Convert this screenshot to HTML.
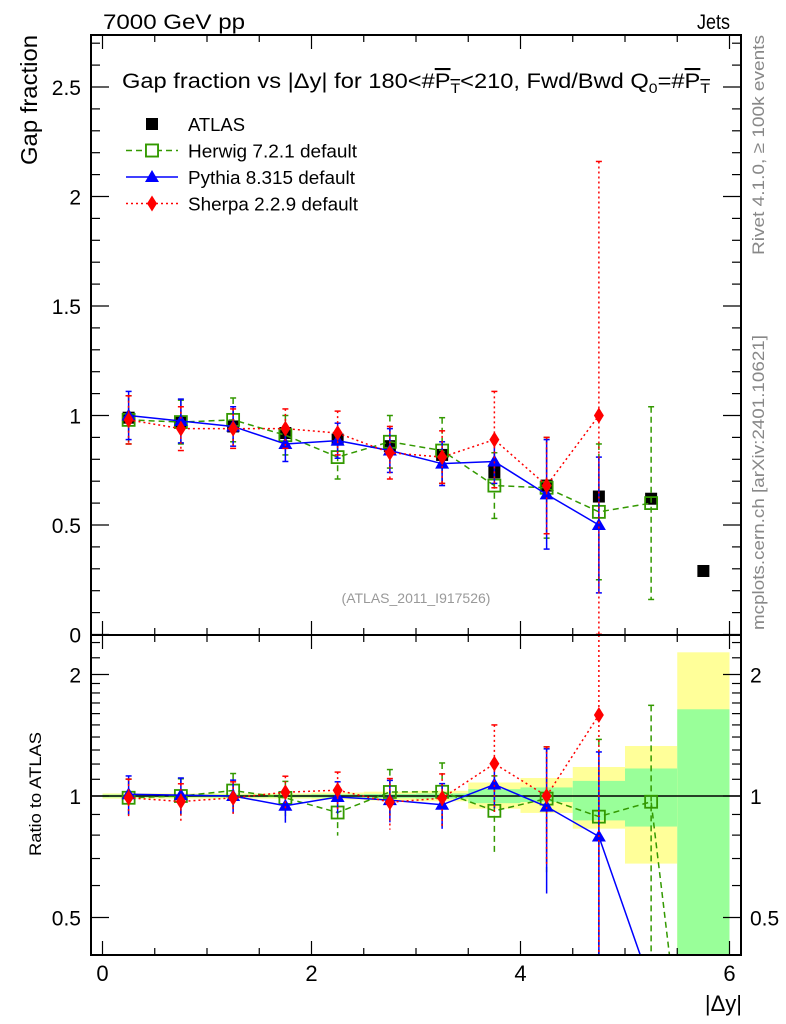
<!DOCTYPE html>
<html><head><meta charset="utf-8"><style>
html,body{margin:0;padding:0;background:#fff;overflow:hidden;width:786px;height:1024px;}
svg{display:block;font-family:"Liberation Sans",sans-serif;overflow:hidden;}
</style></head><body>
<svg id="chart" width="786" height="1024" viewBox="0 0 786 1024" xmlns="http://www.w3.org/2000/svg">
<defs>
<clipPath id="clipMain"><rect x="91" y="35" width="650" height="600"/></clipPath>
<clipPath id="clipRatio"><rect x="91" y="635" width="650" height="320"/></clipPath>
</defs>
<g id="bands" clip-path="url(#clipRatio)"></g>
<g id="grid"></g>
<g id="series"></g>
<rect x="91" y="35" width="650" height="600" fill="none" stroke="#000" stroke-width="2"/>
<rect x="91" y="635" width="650" height="320" fill="none" stroke="#000" stroke-width="2"/>
<text x="103" y="29" font-size="21" textLength="142" lengthAdjust="spacingAndGlyphs">7000 GeV pp</text>
<text x="697" y="29" font-size="21" textLength="33" lengthAdjust="spacingAndGlyphs">Jets</text>
<text x="122" y="88" font-size="21" textLength="588" lengthAdjust="spacingAndGlyphs">Gap fraction vs |Δy| for 180&lt;#<tspan text-decoration="overline">P<tspan font-size="14" dy="5">T</tspan></tspan><tspan dy="-5">&lt;210, Fwd/Bwd Q</tspan><tspan font-size="14" dy="5">0</tspan><tspan dy="-5">=#</tspan><tspan text-decoration="overline">P<tspan font-size="14" dy="5">T</tspan></tspan></text>
<text transform="translate(37,165) rotate(-90)" font-size="23" textLength="130" lengthAdjust="spacingAndGlyphs">Gap fraction</text>
<text transform="translate(41,856) rotate(-90)" font-size="17" textLength="124" lengthAdjust="spacingAndGlyphs">Ratio to ATLAS</text>
<text x="742" y="1011" font-size="22" text-anchor="end">|Δy|</text>
<text transform="translate(764,255) rotate(-90)" font-size="17" fill="#888" textLength="220" lengthAdjust="spacingAndGlyphs">Rivet 4.1.0, ≥ 100k events</text>
<text transform="translate(764,630) rotate(-90)" font-size="17" fill="#888" textLength="295" lengthAdjust="spacingAndGlyphs">mcplots.cern.ch [arXiv:2401.10621]</text>
<text x="416" y="603" font-size="14" fill="#999" text-anchor="middle">(ATLAS_2011_I917526)</text>
<g id="legend"></g>
</svg>
<script>
const xCenters = [0.25,0.75,1.25,1.75,2.25,2.75,3.25,3.75,4.25,4.75,5.25,5.75];
const atlasVals = [0.99,0.97,0.95,0.92,0.89,0.86,0.82,0.74,0.68,0.63,0.62,0.29];
const bandYellowUp = [1.015,1.015,1.015,1.015,1.02,1.025,1.03,1.08,1.108,1.18,1.33,2.27];
const bandYellowDn = [0.985,0.985,0.985,0.985,0.98,0.975,0.97,0.93,0.908,0.83,0.68,0.0];
const bandGreenUp = [1.008,1.008,1.008,1.008,1.01,1.012,1.015,1.04,1.05,1.09,1.17,1.64];
const bandGreenDn = [0.992,0.992,0.992,0.992,0.99,0.988,0.985,0.96,0.966,0.87,0.84,0.0];
const herwigVals = [0.98,0.97,0.98,0.91,0.81,0.88,0.84,0.68,0.67,0.56,0.60];
const herwigErr = [0.11,0.10,0.10,0.09,0.10,0.12,0.15,0.15,0.23,0.31,0.44];
const pythiaVals = [1.00,0.975,0.95,0.87,0.885,0.84,0.78,0.79,0.64,0.50];
const pythiaErr = [0.11,0.10,0.09,0.08,0.08,0.10,0.10,0.10,0.25,0.31];
const sherpaVals = [0.98,0.94,0.94,0.94,0.92,0.83,0.81,0.89,0.68,1.00];
const sherpaErr = [0.11,0.10,0.09,0.09,0.10,0.12,0.12,0.22,0.22,1.16];
const pythiaRatioTail = [5.75,0.144];
const herwigRatioTail = [5.75,0.08];
const xTickLabels = ["0","2","4","6"];
const yTickLabels = ["0","0.5","1","1.5","2","2.5"];
const ratioTickLabels = ["0.5","1","2"];

const NS="http://www.w3.org/2000/svg";
const X0=102.5, XU=104.5;
const sx=v=>X0+v*XU;
const sy=v=>634.5-v*219;
const sr=r=>796-Math.log2(Math.max(r,1e-6))*121.5;
function mk(tag,attrs,parent){const e=document.createElementNS(NS,tag);for(const k in attrs)e.setAttribute(k,attrs[k]);parent.appendChild(e);return e;}
const grid=document.getElementById('grid');
const series=document.getElementById('series');
const bands=document.getElementById('bands');

for(let i=0;i<xCenters.length;i++){
  const x1=sx(xCenters[i]-0.25), w=XU*0.5;
  const y=mk('rect',{x:x1,y:sr(bandYellowUp[i]),width:w,height:sr(bandYellowDn[i])-sr(bandYellowUp[i]),fill:'#ffff99'},bands);
  
  
  const g=mk('rect',{x:x1,y:sr(bandGreenUp[i]),width:w,height:sr(bandGreenDn[i])-sr(bandGreenUp[i]),fill:'#99ff99'},bands);
  
  
}
mk('line',{x1:91,x2:741,y1:sr(1),y2:sr(1),stroke:'#000','stroke-width':1.5},grid);

for(let v=0;v<=6.001;v+=0.5){
  const major=Math.abs(v-Math.round(v/2)*2)<1e-6, L=major?14:7;
  for(const [yb,dir] of [[635,-1],[955,-1],[35,1],[635,1]]){
    mk('line',{x1:sx(v),x2:sx(v),y1:yb,y2:yb+dir*L,stroke:'#000','stroke-width':1.2},grid);
  }
}
xTickLabels.forEach(t=>{const e=mk('text',{x:sx(+t),y:981,'font-size':22,'text-anchor':'middle'},grid);e.textContent=t;
  
  });
for(let k=0;k<=27;k++){
  const v=k*0.1, major=k%5===0, L=major?18:9, y=sy(v);
  mk('line',{x1:91,x2:91+L,y1:y,y2:y,stroke:'#000','stroke-width':1.2},grid);
  mk('line',{x1:741,x2:741-L,y1:y,y2:y,stroke:'#000','stroke-width':1.2},grid);
}
yTickLabels.forEach(t=>{const e=mk('text',{x:81,y:sy(+t)+8,'font-size':21,'text-anchor':'end'},grid);e.textContent=t;
  
  });
const rt=[0.4,0.5,0.6,0.7,0.8,0.9,1,1.1,1.2,1.3,1.4,1.5,1.6,1.7,1.8,1.9,2,2.2,2.4];
rt.forEach(r=>{const major=(r===0.5||r===1||r===2), L=major?18:9, y=sr(r);
  if(y<636||y>954)return;
  mk('line',{x1:91,x2:91+L,y1:y,y2:y,stroke:'#000','stroke-width':1.2},grid);
  mk('line',{x1:741,x2:741-L,y1:y,y2:y,stroke:'#000','stroke-width':1.2},grid);});
ratioTickLabels.forEach(t=>{
  const a=mk('text',{x:81,y:sr(+t)+8,'font-size':21,'text-anchor':'end'},grid);a.textContent=t;
  
  
  const b=mk('text',{x:750,y:sr(+t)+8,'font-size':21},grid);b.textContent=t;
  
  });

function marker(kind,x,y,color,parent){
  let e;
  if(kind==='square') e=mk('rect',{x:x-6,y:y-6,width:12,height:12,fill:'#000'},parent);
  else if(kind==='open') e=mk('rect',{x:x-6,y:y-6,width:12,height:12,fill:'none',stroke:color,'stroke-width':1.8},parent);
  else if(kind==='tri') e=mk('polygon',{points:`${x},${y-7} ${x-7},${y+5} ${x+7},${y+5}`,fill:color},parent);
  else e=mk('polygon',{points:`${x},${y-8} ${x-5},${y} ${x},${y+8} ${x+5},${y}`,fill:color},parent);
  return e;
}
function drawSeries(name,vals,errs,color,dash,kind,tail){
  const gm=mk('g',{'clip-path':'url(#clipMain)'},series);
  
  
  const gr=mk('g',{'clip-path':'url(#clipRatio)'},series);
  
  
  const pm=[],pr=[];
  vals.forEach((v,i)=>{const x=sx(xCenters[i]);pm.push(x+','+sy(v));pr.push(x+','+sr(v/atlasVals[i]));});
  if(tail) pr.push(sx(tail[0])+','+sr(tail[1]));
  mk('polyline',{points:pm.join(' '),fill:'none',stroke:color,'stroke-width':1.5,'stroke-dasharray':dash},gm);
  mk('polyline',{points:pr.join(' '),fill:'none',stroke:color,'stroke-width':1.5,'stroke-dasharray':dash},gr);
  vals.forEach((v,i)=>{
    const x=sx(xCenters[i]), e=errs[i], a=atlasVals[i];
    const lo=Math.max(v-e,0.001);
    mk('line',{x1:x,x2:x,y1:sy(v+e),y2:sy(lo),stroke:color,'stroke-width':1.5,'stroke-dasharray':dash},gm);
    mk('line',{x1:x-3,x2:x+3,y1:sy(v+e),y2:sy(v+e),stroke:color,'stroke-width':1.5},gm);
    mk('line',{x1:x-3,x2:x+3,y1:sy(lo),y2:sy(lo),stroke:color,'stroke-width':1.5},gm);
    mk('line',{x1:x,x2:x,y1:sr((v+e)/a),y2:sr(lo/a),stroke:color,'stroke-width':1.5,'stroke-dasharray':dash},gr);
    mk('line',{x1:x-3,x2:x+3,y1:sr((v+e)/a),y2:sr((v+e)/a),stroke:color,'stroke-width':1.5},gr);
    const m1=marker(kind,x,sy(v),color,gm);
    
    
    const m2=marker(kind,x,sr(v/a),color,gr);
    
    
  });
}
const ga=mk('g',{'clip-path':'url(#clipMain)'},series);


atlasVals.forEach((v,i)=>{const m=marker('square',sx(xCenters[i]),sy(v),'#000',ga);
  
  });
drawSeries('herwig',herwigVals,herwigErr,'#339900','6,4','open',herwigRatioTail);
drawSeries('pythia',pythiaVals,pythiaErr,'#0000ff','none','tri',pythiaRatioTail);
drawSeries('sherpa',sherpaVals,sherpaErr,'#ff0000','2,3','diamond',null);

const lg=document.getElementById('legend');
const entries=[['ATLAS','#000','none','square',57],['Herwig 7.2.1 default','#339900','6,4','open',169],['Pythia 8.315 default','#0000ff','none','tri',167],['Sherpa 2.2.9 default','#ff0000','2,3','diamond',170]];
entries.forEach((en,i)=>{
  const y=124+i*26.5;
  const g=mk('g',{},lg);
  
  
  if(i>0) mk('line',{x1:126,x2:178,y1:y,y2:y,stroke:en[1],'stroke-width':1.5,'stroke-dasharray':en[2]},g);
  marker(en[3],152,y,en[1],g);
  if(i===1) mk('rect',{x:146,y:y-6,width:12,height:12,fill:'#fff',stroke:'#339900','stroke-width':1.8},g);
  const t=mk('text',{x:188,y:y+7,'font-size':18,textLength:en[4],lengthAdjust:'spacingAndGlyphs'},g);t.textContent=en[0];
});
</script>
</body></html>
